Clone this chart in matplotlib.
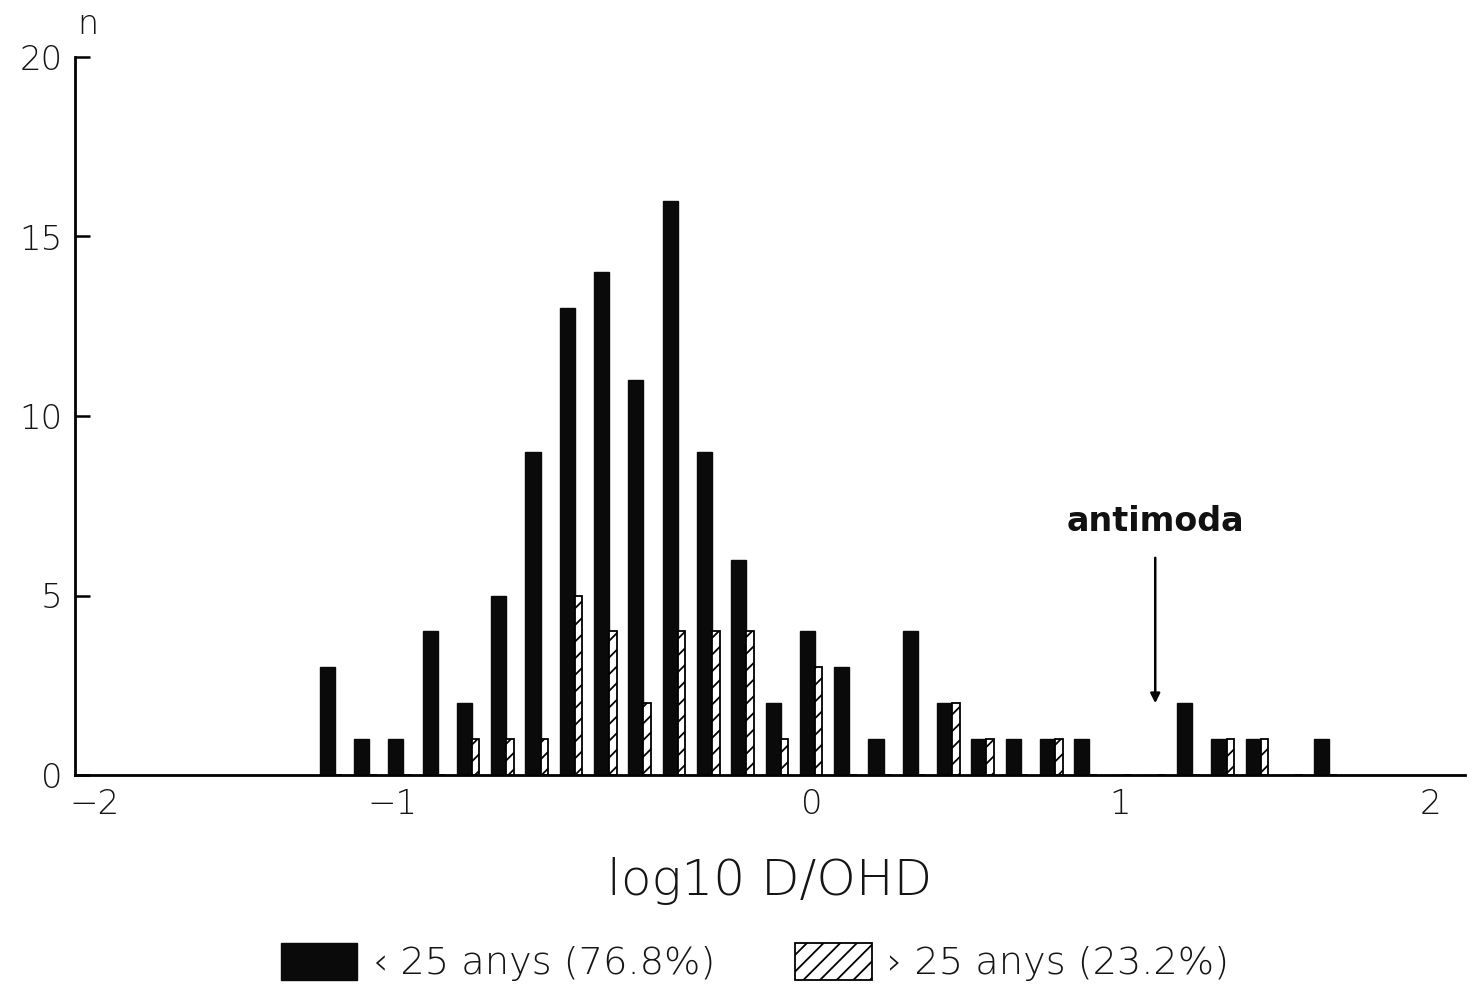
import numpy as np
import matplotlib
matplotlib.use("Agg")
import matplotlib.pyplot as plt
from matplotlib.patches import Patch

plt.rcParams['font.family'] = ['DejaVu Sans']
plt.rcParams['hatch.linewidth'] = 1.3

# bin centres (log10 D/OHD)
bin_centers = [-1.3, -1.2, -1.1, -1.0, -0.9, -0.8, -0.7, -0.6, -0.5, -0.4,
               -0.3, -0.2, -0.1, 0.0, 0.1, 0.2, 0.3, 0.4, 0.5, 0.6,
               0.7, 0.8, 0.9, 1.0, 1.1, 1.2, 1.3, 1.4, 1.5, 1.6]
under25 = [3, 1, 1, 4, 2, 5, 9, 13, 14, 11,
           16, 9, 6, 2, 4, 3, 1, 4, 2, 1,
           1, 1, 1, 0, 0, 2, 1, 1, 0, 1]
over25 = [0, 0, 0, 0, 1, 1, 1, 5, 4, 2,
          4, 4, 4, 1, 3, 0, 0, 0, 2, 1,
          0, 1, 0, 0, 0, 0, 1, 1, 0, 0]
xtick_labels = ['\u22122', '\u22121', '0', '1', '2']
xtick_pos = [-1.977, -1.111, 0.114, 1.012, 1.915]
ytick_vals = [0, 5, 10, 15, 20]
legend_labels = ['\u2039 25 anys (76.8%)', '\u203a 25 anys (23.2%)']
antimoda_x = 1.114

W = 200
TXT = '#151515'

fig = plt.figure(figsize=(14.69, 9.97), dpi=100)
ax = fig.add_axes([75/1469, 1-775/997, (1465-75)/1469, (775-57)/997])

x = np.array(bin_centers)
bw = 0.044
hw = 0.022
ax.bar(x, under25, width=bw, color='#0a0a0a', edgecolor='#0a0a0a', linewidth=1)
ax.bar(x + bw/2 + hw/2, over25, width=hw, color='white', edgecolor='black',
       linewidth=1.3, hatch='//')

ax.set_xlim(-2.035, 2.017)
ax.set_ylim(0, 20)
for s in ['top', 'right']:
    ax.spines[s].set_visible(False)
ax.spines['left'].set_linewidth(2)
ax.spines['bottom'].set_linewidth(2)

ax.set_yticks(ytick_vals)
ax.set_yticklabels([str(v) for v in ytick_vals])
ax.tick_params(axis='y', direction='in', length=11, width=1.8, labelsize=24.5,
               pad=9, labelcolor=TXT)
ax.set_xticks(xtick_pos)
ax.set_xticklabels(xtick_labels)
ax.tick_params(axis='x', length=0, labelsize=24.5, pad=9, labelcolor=TXT)
for lab in ax.get_xticklabels() + ax.get_yticklabels():
    lab.set_fontweight(W)

ax.set_xlabel('log10 D/OHD', fontsize=36, fontweight=W, labelpad=26,
              color=TXT)

fig.text(88/1469, 1-25/997, 'n', fontsize=24, fontweight=W,
         ha='center', va='center', color=TXT)

ax.annotate('', xy=(antimoda_x, 2.0), xytext=(antimoda_x, 6.05),
            arrowprops=dict(arrowstyle='-|>', lw=1.8, color='black',
                            mutation_scale=14, shrinkA=0, shrinkB=0))
ax.text(antimoda_x, 7.05, 'antimoda', fontsize=24, fontweight='bold',
        ha='center', va='center', color='#111')

handles = [Patch(facecolor='#0a0a0a', edgecolor='#0a0a0a'),
           Patch(facecolor='white', edgecolor='black', hatch='//', linewidth=1.3)]
fig.legend(handles, legend_labels, loc='center', bbox_to_anchor=(0.514, 0.035),
           ncol=2, frameon=False, handlelength=2.0,
           handleheight=1.1, handletextpad=0.4, columnspacing=2.1,
           prop={'weight': W, 'size': 27.5}, labelcolor=TXT)

fig.savefig('out.png', dpi=100)
